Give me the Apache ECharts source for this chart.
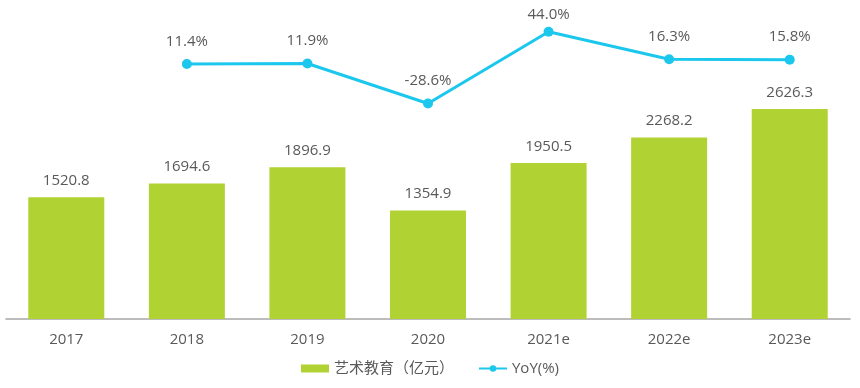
<!DOCTYPE html>
<html><head><meta charset="utf-8">
<script src="https://cdn.jsdelivr.net/npm/echarts@6/dist/echarts.min.js"></script>
<style>html,body{margin:0;padding:0;background:#fff}#c{width:860px;height:388px}</style>
</head><body><div id="c"></div>
<script>
const categories = ['2017','2018','2019','2020','2021e','2022e','2023e'];
const artEdu = [1520.8, 1694.6, 1896.9, 1354.9, 1950.5, 2268.2, 2626.3];
const yoy = [null, 11.4, 11.9, -28.6, 44.0, 16.3, 15.8];
const barName = '艺术教育（亿元）';
const lineName = 'YoY(%)';

const font = '"Open Sans","Noto Sans","Noto Sans CJK SC",sans-serif';
const txt = '#595959';
const chart = echarts.init(document.getElementById('c'));
const yoyData = yoy.map((v, i) => (i === 4 ? { value: v, label: { distance: 5 } } : v));
chart.setOption({
  animation: false,
  textStyle: { fontFamily: font },
  grid: { left: 6, right: 10, top: 19, bottom: 69, containLabel: false },
  legend: {
    bottom: 7, left: 'center', itemGap: 24,
    itemWidth: 28, itemHeight: 8,
    textStyle: { color: txt, fontSize: 15, fontFamily: font },
    data: [{ name: barName, icon: 'rect' }, { name: lineName }]
  },
  xAxis: {
    type: 'category', data: categories,
    axisLine: { lineStyle: { color: '#a6a6a6', width: 1.5 } },
    axisTick: { show: false },
    axisLabel: { color: txt, fontSize: 15, margin: 13, fontFamily: font }
  },
  yAxis: [
    { type: 'value', min: 0, max: 3750, show: false, splitLine: { show: false } },
    { type: 'value', min: -247, max: 57, show: false, splitLine: { show: false } }
  ],
  series: [
    {
      name: barName, type: 'bar', data: artEdu, barWidth: 76,
      itemStyle: { color: '#b1d233' },
      label: { show: true, position: 'top', distance: 9, color: txt, fontSize: 15, fontFamily: font,
        formatter: p => p.value.toFixed(1) }
    },
    {
      name: lineName, type: 'line', yAxisIndex: 1, data: yoyData,
      symbol: 'circle', symbolSize: 10,
      lineStyle: { color: '#1cc7ee', width: 3 },
      itemStyle: { color: '#1cc7ee' },
      label: { show: true, position: 'top', distance: 10, color: txt, fontSize: 15, fontFamily: font,
        formatter: p => Number(p.value).toFixed(1) + '%' }
    }
  ]
});
</script></body></html>
